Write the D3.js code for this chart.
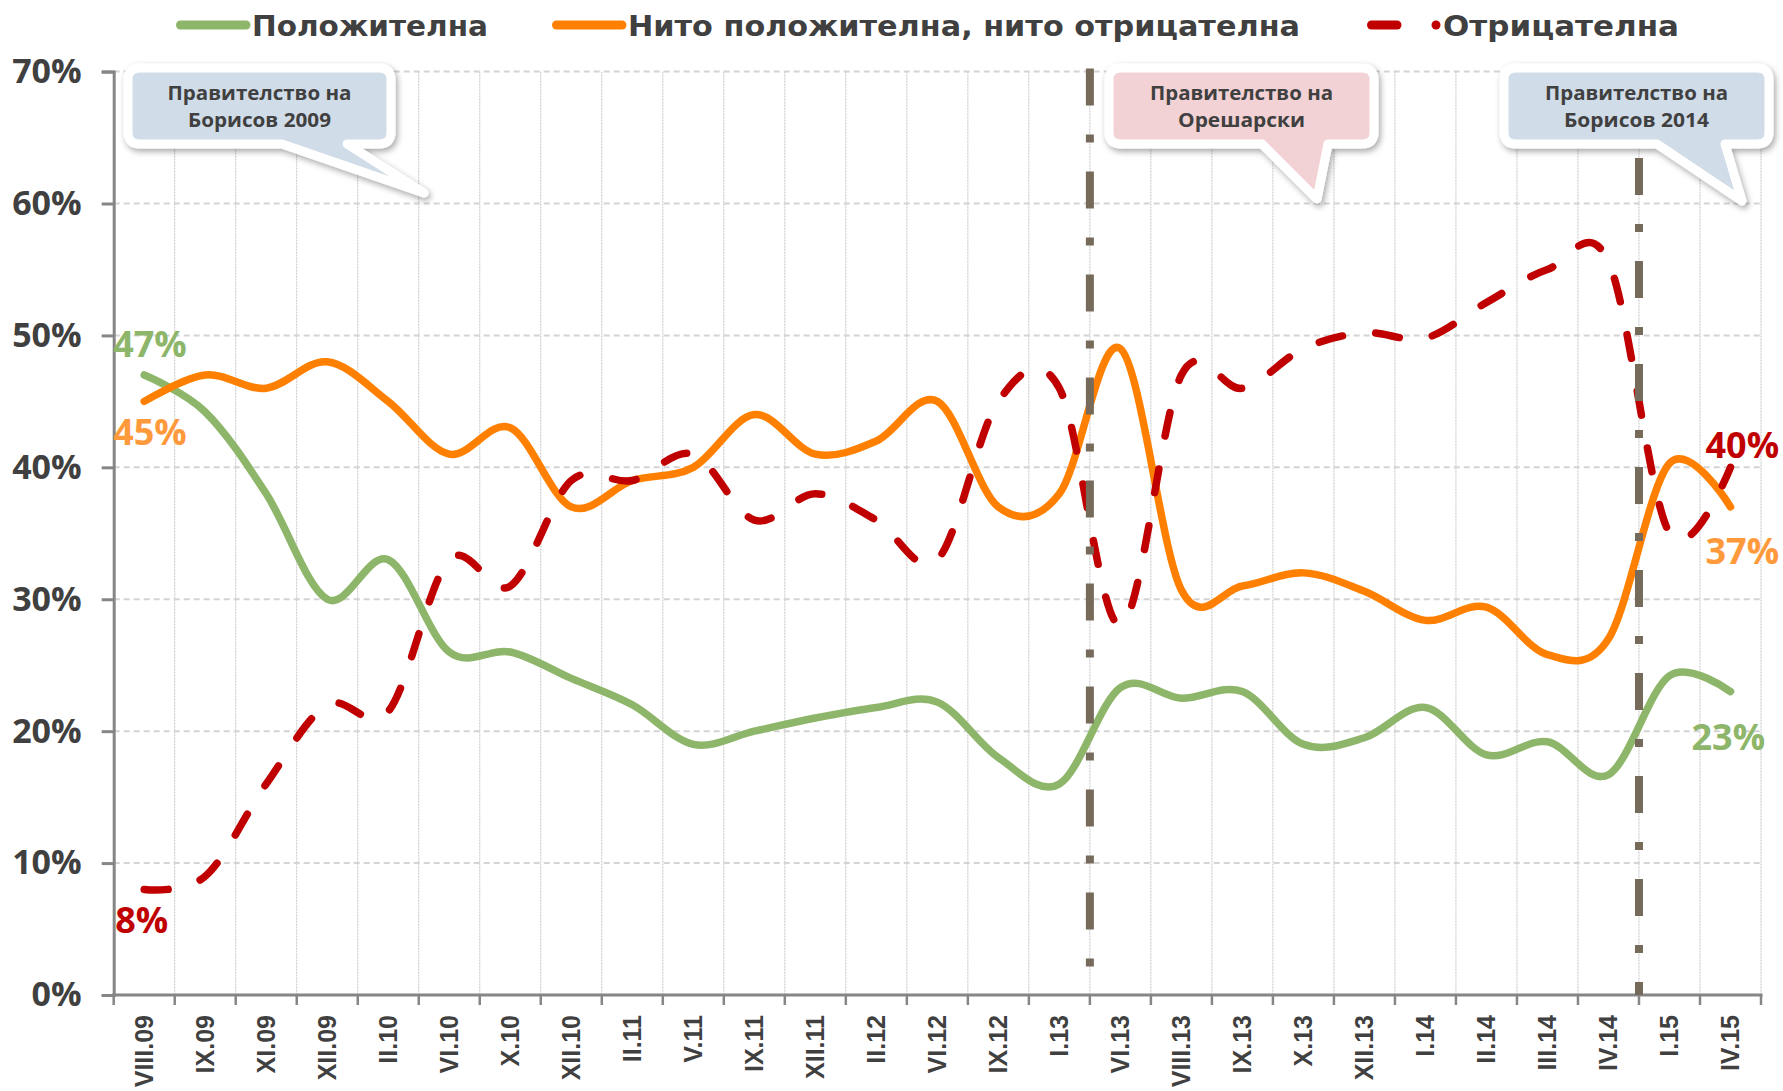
<!DOCTYPE html>
<html>
<head>
<meta charset="utf-8">
<script src="https://cdn.jsdelivr.net/npm/d3@7"></script>
<style>
  body { margin: 0; background: #fff; }
</style>
</head>
<body>
<div id="chart"></div>
<script>
// survey periods
const categories = ["VIII.09", "IX.09", "XI.09", "XII.09", "II.10", "VI.10", "X.10", "XII.10", "II.11",
    "V.11", "IX.11", "XII.11", "II.12", "VI.12", "IX.12", "I.13", "VI.13", "VIII.13", "IX.13",
    "X.13", "XII.13", "I.14", "II.14", "III.14", "IV.14", "I.15", "IV.15"]

// values in %
const positive = [47, 44.2, 38, 30, 33, 26, 26, 24, 22, 19, 20, 21, 21.8, 22.2, 18, 16,
    23.3, 22.5, 23, 19, 19.5, 21.8, 18.2, 19.2, 16.7, 24.2, 23]
const neutral = [45, 47, 46, 48, 45, 41, 43, 37, 39, 40, 44, 41, 42, 45, 37, 38,
    49, 30.7, 31, 32, 30.6, 28.4, 29.4, 25.8, 27, 40.3, 37]
const negative = [8, 9, 16, 22, 21.5, 33, 31, 39, 39, 41, 36, 38, 36, 33, 45, 46,
    28, 47, 46, 49, 50.2, 49.8, 52.5, 55, 55.6, 35, 40]

const yTicks = [0, 10, 20, 30, 40, 50, 60, 70]
const seriesNames = ["Положителна", "Нито положителна, нито отрицателна", "Отрицателна"]

// first survey under each new government
const govBreaks = ["VI.13", "I.15"]
const govLabels = [["Правителство на", "Борисов 2009"], ["Правителство на", "Орешарски"], ["Правителство на", "Борисов 2014"]]

const WIDTH = 1783, HEIGHT = 1091
const PLOT = {LEFT: 113.7, RIGHT: 1761, TOP: 71.6, BOTTOM: 995}
const GREEN = "#8db66a", ORANGE = "#ff8000", RED = "#c00000", TEXT = "#404040"

let svg = d3.select("#chart").append("svg")
    .attr("width", WIDTH)
    .attr("height", HEIGHT)

let defs = svg.append("defs")
let shadow = defs.append("filter").attr("id", "shadow")
    .attr("x", "-20%").attr("y", "-20%").attr("width", "140%").attr("height", "150%")
shadow.append("feDropShadow")
    .attr("dx", 2).attr("dy", 3).attr("stdDeviation", 3)
    .attr("flood-color", "#000").attr("flood-opacity", 0.35)

let x = d3.scaleBand()
    .domain(categories)
    .range([PLOT.LEFT, PLOT.RIGHT])
    .paddingInner(0)
    .paddingOuter(0)

let y = d3.scaleLinear().domain([0, 70]).range([PLOT.BOTTOM, PLOT.TOP])

let cx = c => x(c) + x.bandwidth() / 2
let bounds = categories.map(c => x(c)).concat([PLOT.RIGHT])

// grid
let grid = svg.append("g")
grid.selectAll(".vgrid")
    .data(bounds.slice(1))
    .enter().append("line")
    .attr("x1", d => d).attr("x2", d => d)
    .attr("y1", PLOT.TOP).attr("y2", PLOT.BOTTOM)
    .attr("stroke", "#c4c4c4")
    .attr("stroke-width", 1)
    .attr("stroke-dasharray", "2,1")
grid.selectAll(".hgrid")
    .data(yTicks.filter(d => d > 0))
    .enter().append("line")
    .attr("x1", PLOT.LEFT).attr("x2", PLOT.RIGHT)
    .attr("y1", d => y(d)).attr("y2", d => y(d))
    .attr("stroke", "#d4d4d4")
    .attr("stroke-width", 2)
    .attr("stroke-dasharray", "6,4")

// y axis
let yAxis = svg.append("g")
    .attr("transform", `translate(${PLOT.LEFT}, 0)`)
    .call(d3.axisLeft(y).tickValues(yTicks).tickSize(12).tickPadding(20).tickFormat(d => d + "%"))
yAxis.select(".domain").attr("stroke", "#868686").attr("stroke-width", 3)
yAxis.selectAll(".tick line").attr("stroke", "#868686").attr("stroke-width", 3)
yAxis.selectAll(".tick text")
    .attr("fill", TEXT)
    .attr("font-family", "'Open Sans', sans-serif")
    .attr("font-weight", "bold")
    .attr("font-size", "34px")

// x axis
let xAxis = svg.append("g")
xAxis.append("line")
    .attr("x1", PLOT.LEFT - 1.5).attr("x2", PLOT.RIGHT + 1.5)
    .attr("y1", PLOT.BOTTOM).attr("y2", PLOT.BOTTOM)
    .attr("stroke", "#868686").attr("stroke-width", 3)
xAxis.selectAll(".xtick")
    .data(bounds)
    .enter().append("line")
    .attr("x1", d => d).attr("x2", d => d)
    .attr("y1", PLOT.BOTTOM).attr("y2", PLOT.BOTTOM + 10)
    .attr("stroke", "#868686").attr("stroke-width", 2.5)
xAxis.selectAll(".xlabel")
    .data(categories)
    .enter().append("text")
    .attr("transform", d => `translate(${cx(d)}, ${PLOT.BOTTOM + 20}) rotate(-90)`)
    .attr("text-anchor", "end")
    .attr("dy", "0.36em")
    .attr("fill", TEXT)
    .attr("font-family", "'Liberation Sans', Arial, sans-serif")
    .attr("font-weight", "bold")
    .attr("font-size", "25px")
    .text(d => d)

// series
let line = d3.line()
    .x((d, i) => cx(categories[i]))
    .y(d => y(d))
    .curve(d3.curveCardinal.tension(0))

svg.append("path").datum(positive)
    .attr("d", line).attr("fill", "none")
    .attr("stroke", GREEN).attr("stroke-width", 7.5).attr("stroke-linecap", "round")
svg.append("path").datum(neutral)
    .attr("d", line).attr("fill", "none")
    .attr("stroke", ORANGE).attr("stroke-width", 7.5).attr("stroke-linecap", "round")
let negPath = svg.append("path").datum(negative)
    .attr("d", line).attr("fill", "none")
    .attr("stroke", RED).attr("stroke-width", 7.5).attr("stroke-linecap", "round")

// stretch the dash period a bit so the dashes start and end on the line ends
let total = negPath.node().getTotalLength()
let n = Math.round((total - 22) / 58)
let period = (total - 22) / n
negPath.attr("stroke-dasharray", `24,${period - 24}`)

// government change markers
svg.selectAll(".gov")
    .data(govBreaks)
    .enter().append("line")
    .attr("x1", d => x(d)).attr("x2", d => x(d))
    .attr("y1", PLOT.TOP - 3).attr("y2", PLOT.BOTTOM)
    .attr("stroke", "#766a5a")
    .attr("stroke-width", 8)
    .attr("stroke-dasharray", "37,29,8,29")
    .attr("stroke-dashoffset", (d, i) => i === 0 ? 0 : 13.6)

// end labels
let endLabels = [
    {v: positive[0], i: 0, dx: -31, dy: -18, color: GREEN},
    {v: neutral[0], i: 0, dx: -31, dy: 44, color: "#ff9a3c"},
    {v: negative[0], i: 0, dx: -29, dy: 44, color: RED},
    {v: negative[categories.length - 1], i: categories.length - 1, dx: -25, dy: -9, color: RED},
    {v: neutral[categories.length - 1], i: categories.length - 1, dx: -25, dy: 57, color: "#ff9a3c"},
    {v: positive[categories.length - 1], i: categories.length - 1, dx: -39, dy: 58, color: GREEN}
]
svg.selectAll(".endlabel")
    .data(endLabels)
    .enter().append("text")
    .attr("x", d => cx(categories[d.i]) + d.dx)
    .attr("y", d => y(d.v) + d.dy)
    .attr("fill", d => d.color)
    .attr("font-family", "'Open Sans', sans-serif")
    .attr("font-weight", "bold")
    .attr("font-size", "36px")
    .text(d => Math.round(d.v) + "%")

// legend
let legendPos = [
    {x: 176, tw: 236, color: GREEN, dashed: false},
    {x: 552, tw: 672, color: ORANGE, dashed: false},
    {x: 1367, tw: 236, color: RED, dashed: true}
]
let legend = svg.append("g")
legendPos.forEach((p, i) => {
    if (p.dashed) {
        legend.append("line")
            .attr("x1", p.x + 4.5).attr("x2", p.x + 30)
            .attr("y1", 25).attr("y2", 25)
            .attr("stroke", p.color).attr("stroke-width", 9).attr("stroke-linecap", "round")
        legend.append("circle")
            .attr("cx", p.x + 69).attr("cy", 25).attr("r", 4.5)
            .attr("fill", p.color)
    } else {
        legend.append("line")
            .attr("x1", p.x + 4.5).attr("x2", p.x + 70)
            .attr("y1", 25).attr("y2", 25)
            .attr("stroke", p.color).attr("stroke-width", 9).attr("stroke-linecap", "round")
    }
    legend.append("text")
        .attr("x", p.x + 76).attr("y", 36)
        .attr("fill", TEXT)
        .attr("font-family", "'DejaVu Sans', sans-serif")
        .attr("font-weight", "bold")
        .attr("font-size", "29px")
        .attr("textLength", p.tw)
        .attr("lengthAdjust", "spacingAndGlyphs")
        .text(seriesNames[i])
})

// callouts
let callouts = [
    {x0: 128, x1: 391, tailL: 282, tailR: 347, tipX: 424, tipY: 193, fill: "#d0dce8", w: [184, 143]},
    {x0: 1109, x1: 1374, tailL: 1262, tailR: 1328, tipX: 1317, tipY: 199, fill: "#f2d2d5", w: [183, 127]},
    {x0: 1504, x1: 1769, tailL: 1657, tailR: 1725, tipX: 1742, tipY: 201, fill: "#d0dce8", w: [183, 145]}
]
let bubble = function (b) {
    let r = 12, y0 = 68, y1 = 144
    return `M${b.x0 + r},${y0} H${b.x1 - r} Q${b.x1},${y0} ${b.x1},${y0 + r} V${y1 - r} ` +
        `Q${b.x1},${y1} ${b.x1 - r},${y1} H${b.tailR} L${b.tipX},${b.tipY} L${b.tailL},${y1} ` +
        `H${b.x0 + r} Q${b.x0},${y1} ${b.x0},${y1 - r} V${y0 + r} Q${b.x0},${y0} ${b.x0 + r},${y0} Z`
}
callouts.forEach((b, i) => {
    let g = svg.append("g")
    g.append("path")
        .attr("d", bubble(b))
        .attr("fill", b.fill)
        .attr("stroke", "#fff")
        .attr("stroke-width", 9)
        .attr("stroke-linejoin", "round")
        .attr("filter", "url(#shadow)")
    govLabels[i].forEach((t, j) => {
        g.append("text")
            .attr("x", (b.x0 + b.x1) / 2)
            .attr("y", 100 + j * 27)
            .attr("text-anchor", "middle")
            .attr("fill", TEXT)
            .attr("font-family", "'Open Sans', sans-serif")
            .attr("font-weight", "bold")
            .attr("font-size", "20px")
            .attr("textLength", b.w[j])
            .attr("lengthAdjust", "spacingAndGlyphs")
            .text(t)
    })
})
</script>
</body>
</html>
